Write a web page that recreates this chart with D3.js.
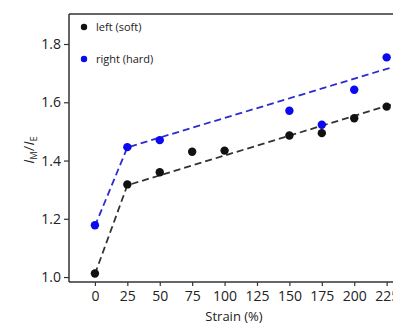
<!DOCTYPE html>
<html><head><meta charset="utf-8">
<script src="https://cdn.jsdelivr.net/npm/d3@7"></script>
<style>
html,body{margin:0;padding:0;background:#fff;overflow:hidden;}
svg{display:block;font-family:"Open Sans",sans-serif;}
</style></head>
<body><svg id="c" width="393" height="325"></svg>
<script>
const strain = [0, 25, 50, 75, 100, 150, 175, 200, 225];
const leftSoft = [1.012, 1.318, 1.360, 1.430, 1.434, 1.486, 1.494, 1.545, 1.585];
const strainRight = [0, 25, 50, 150, 175, 200, 225];
const rightHard = [1.178, 1.446, 1.470, 1.571, 1.523, 1.643, 1.754];
const fitX = [0, 25, 235];
const fitLeft = [1.010, 1.315, 1.601];
const fitRight = [1.175, 1.445, 1.728];
const xTicks = [0, 25, 50, 75, 100, 125, 150, 175, 200, 225];
const yTicks = [1.0, 1.2, 1.4, 1.6, 1.8];
const seriesNames = ["left (soft)", "right (hard)"];

const svg = d3.select("#c");
const L = 69, R = 400, T = 14, B = 282;
const x = d3.scaleLinear().domain([-20, 235.3]).range([L, R]);
const y = d3.scaleLinear().domain([0.983, 1.903]).range([B, T]);
const axisColor = "#333";

// top border
svg.append("line").attr("x1", L).attr("x2", R).attr("y1", T).attr("y2", T)
  .attr("stroke", axisColor).attr("stroke-width", 1.5);

const gx = svg.append("g").attr("transform", `translate(0,${B})`)
  .call(d3.axisBottom(x).tickValues(xTicks).tickSize(4).tickPadding(5).tickSizeOuter(0));
const gy = svg.append("g").attr("transform", `translate(${L},0)`)
  .call(d3.axisLeft(y).tickValues(yTicks).tickFormat(d3.format(".1f")).tickSize(5).tickPadding(3).tickSizeOuter(0));
[gx, gy].forEach(g => {
  g.select(".domain").attr("stroke", axisColor).attr("stroke-width", 1.5);
  g.selectAll(".tick line").attr("stroke", axisColor).attr("stroke-width", 1.2);
  g.selectAll(".tick text").attr("fill", "#222").style("font-size", "14px").style("font-family", "'Open Sans',sans-serif");
});
gy.select(".domain").attr("d", `M0,${T}V${B}`);
gx.select(".domain").attr("d", `M${L},0H${R}`);

// fit lines
const line = d3.line().x(d => x(d[0])).y(d => y(d[1]));
svg.append("path").datum(fitX.map((v, i) => [v, fitLeft[i]]))
  .attr("d", line).attr("fill", "none").attr("stroke", "#333").attr("stroke-width", 1.8).attr("stroke-dasharray", "7,4");
svg.append("path").datum(fitX.map((v, i) => [v, fitRight[i]]))
  .attr("d", line).attr("fill", "none").attr("stroke", "#2b2bd0").attr("stroke-width", 1.8).attr("stroke-dasharray", "7,4");

// points
svg.append("g").selectAll("circle").data(strain.map((v, i) => [v, leftSoft[i]])).join("circle")
  .attr("cx", d => x(d[0])).attr("cy", d => y(d[1])).attr("r", 4.2).attr("fill", "#111");
svg.append("g").selectAll("circle").data(strainRight.map((v, i) => [v, rightHard[i]])).join("circle")
  .attr("cx", d => x(d[0])).attr("cy", d => y(d[1])).attr("r", 4.2).attr("fill", "#0a0af0");

// legend
const lg = svg.append("g");
const lc = ["#111", "#0a0af0"];
seriesNames.forEach((n, i) => {
  const yy = 27 + i * 32;
  lg.append("circle").attr("cx", 84).attr("cy", yy).attr("r", 3.2).attr("fill", lc[i]);
  lg.append("text").attr("x", 96).attr("y", yy + 4).text(n)
    .attr("fill", "#222").style("font-size", "11px");
});

// axis labels
svg.append("text").attr("x", 234).attr("y", 321).attr("text-anchor", "middle")
  .attr("fill", "#222").style("font-size", "13px").text("Strain (%)");

const yl = svg.append("text").attr("transform", "translate(34,150) rotate(-90)")
  .attr("text-anchor", "middle").attr("fill", "#222").style("font-size", "15px");
yl.append("tspan").style("font-style", "italic").text("I");
yl.append("tspan").attr("dy", 3).style("font-size", "9.5px").text("M");
yl.append("tspan").attr("dy", -3).text("/");
yl.append("tspan").style("font-style", "italic").text("I");
yl.append("tspan").attr("dy", 3).style("font-size", "9.5px").text("E");
</script></body></html>
